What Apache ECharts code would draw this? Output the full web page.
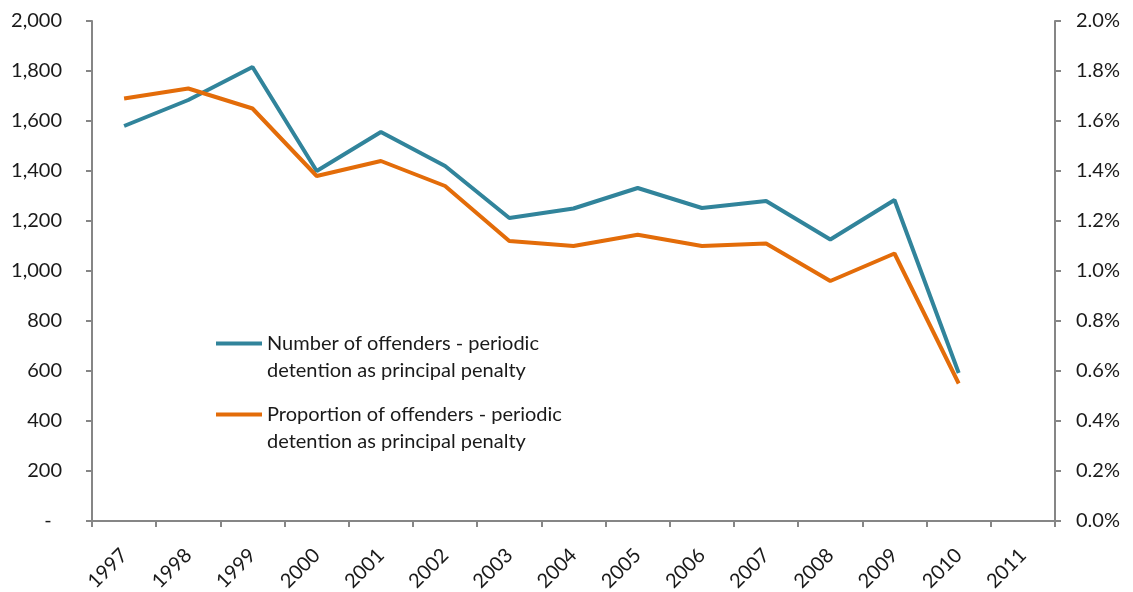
<!DOCTYPE html>
<html>
<head>
<meta charset="utf-8">
<script src="https://cdn.jsdelivr.net/npm/echarts@6/dist/echarts.min.js"></script>
<style>
html,body{margin:0;padding:0;background:#fff;}
#chart{width:1133px;height:592px;}
</style>
</head>
<body>
<div id="chart"></div>
<script>
const years = ['1997','1998','1999','2000','2001','2002','2003','2004','2005','2006','2007','2008','2009','2010','2011'];
const offenders = [1580, 1684, 1816, 1400, 1556, 1420, 1212, 1250, 1332, 1252, 1280, 1126, 1284, 592, null];
const proportion = [1.69, 1.73, 1.65, 1.38, 1.44, 1.34, 1.12, 1.10, 1.145, 1.10, 1.11, 0.96, 1.07, 0.55, null];
const nameNum = 'Number of offenders - periodic\ndetention as principal penalty';
const namePct = 'Proportion of offenders - periodic\ndetention as principal penalty';

const FONT = 'Lato';
const axisGray = '#868686';
const txt = '#1a1a1a';

const chart = echarts.init(document.getElementById('chart'), null, {renderer:'canvas'});
const legendText = {fontFamily: FONT, fontSize: 20, color: txt, lineHeight: 27};
const legendFmt = n => ' \n' + n;
chart.setOption({
  animation: false,
  grid: {left: 92, right: 78, top: 21, bottom: 71, containLabel: false, outerBoundsMode: 'none'},
  legend: [
    {data: [nameNum], left: 211, top: 298, orient: 'vertical', itemWidth: 46, itemHeight: 4,
     icon: 'rect', textStyle: legendText, formatter: legendFmt, selectedMode: false},
    {data: [namePct], left: 211, top: 369, orient: 'vertical', itemWidth: 46, itemHeight: 4,
     icon: 'rect', textStyle: legendText, formatter: legendFmt, selectedMode: false}
  ],
  xAxis: {
    type: 'category', data: years, boundaryGap: true,
    axisLine: {lineStyle: {color: axisGray, width: 2}},
    axisTick: {show: true, length: 6, lineStyle: {color: axisGray, width: 2}},
    axisLabel: {rotate: 45, fontFamily: FONT, fontSize: 20, color: txt, margin: 31, interval: 0}
  },
  yAxis: [
    {type: 'value', min: 0, max: 2000, interval: 200, position: 'left',
     axisLine: {show: true, lineStyle: {color: axisGray, width: 2}},
     axisTick: {show: true, length: 6, lineStyle: {color: axisGray, width: 2}},
     splitLine: {show: false},
     axisLabel: {fontFamily: FONT, fontSize: 20, color: txt, margin: 30,
       formatter: v => v === 0 ? '-  ' : v.toLocaleString('en-US')}},
    {type: 'value', min: 0, max: 2.0, interval: 0.2, position: 'right',
     axisLine: {show: true, lineStyle: {color: axisGray, width: 2}},
     axisTick: {show: true, length: 6, lineStyle: {color: axisGray, width: 2}},
     splitLine: {show: false},
     axisLabel: {fontFamily: FONT, fontSize: 20, color: txt, margin: 21,
       formatter: v => v.toFixed(1) + '%'}}
  ],
  series: [
    {name: nameNum, type: 'line', yAxisIndex: 0, data: offenders, showSymbol: false, symbol: 'none',
     lineStyle: {color: '#31849B', width: 4}, itemStyle: {color: '#31849B'}},
    {name: namePct, type: 'line', yAxisIndex: 1, data: proportion, showSymbol: false, symbol: 'none',
     lineStyle: {color: '#E36C09', width: 4}, itemStyle: {color: '#E36C09'}}
  ]
});
</script>
</body>
</html>
